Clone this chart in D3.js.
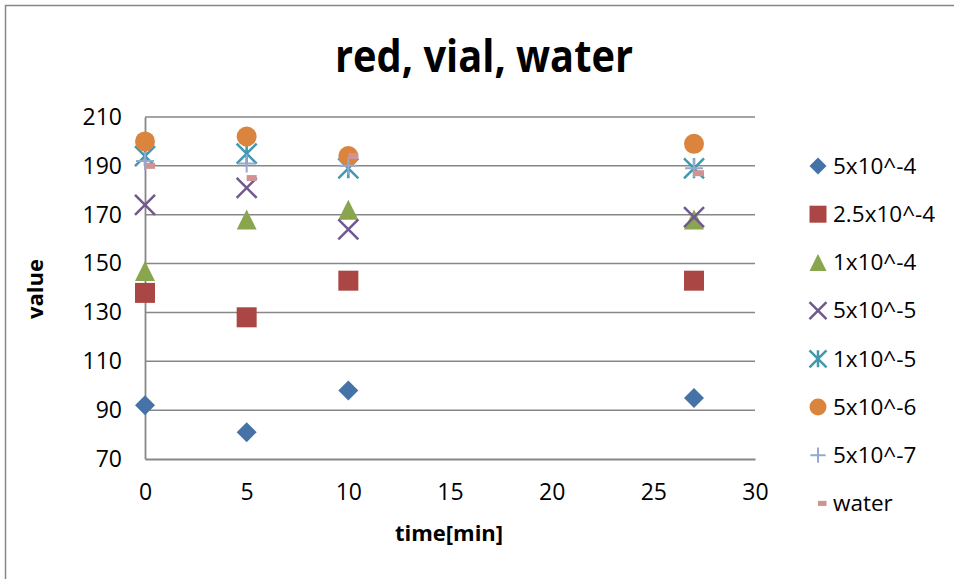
<!DOCTYPE html>
<html>
<head>
<meta charset="utf-8">
<script src="https://cdn.jsdelivr.net/npm/d3@7"></script>
<style>
  body { margin: 0; background: #fff; }
  svg { display: block; }
  text { font-family: "Open Sans", "Noto Sans", sans-serif; fill: #000; }
</style>
</head>
<body>
<svg id="chart" width="954" height="579"></svg>
<script>
// data
const times = [0, 5, 10, 27];
const seriesNames = ["5x10^-4", "2.5x10^-4", "1x10^-4", "5x10^-5", "1x10^-5", "5x10^-6", "5x10^-7", "water"];
const s5e4  = [92, 81, 98, 95];
const s25e4 = [138, 128, 143, 143];
const s1e4  = [147, 168, 172, 168];
const s5e5  = [174, 181, 164, 169];
const s1e5  = [194, 195, 189, 189];
const s5e6  = [200, 202, 194, 199];
const s5e7  = [192, 191, 190, 189];
const sWater = [190, 185, 194, 187];
const xTicks = [0, 5, 10, 15, 20, 25, 30];
const yTicks = [70, 90, 110, 130, 150, 170, 190, 210];

const seriesValues = [s5e4, s25e4, s1e4, s5e5, s1e5, s5e6, s5e7, sWater];
const colors = ["#4572A7", "#AA4643", "#89A54E", "#71588F", "#4198AF", "#DB843D", "#93A9CF", "#D19392"];
const shapes = ["diamond", "square", "triangle", "x", "star", "circle", "plus", "dash"];

const svg = d3.select('#chart');
const grey = '#878787';

// outer chart frame (only top and left edges visible)
svg.append('path')
    .attr('d', 'M5.5,579 V5.5 H954')
    .attr('fill', 'none')
    .attr('stroke', grey)
    .attr('stroke-width', 1.5);

const x = d3.scaleLinear().domain([0, 30]).range([145, 755]);
const y = d3.scaleLinear().domain([70, 210]).range([459, 117]);

// gridlines
svg.append('g').selectAll('line')
    .data(yTicks.slice(1))
    .join('line')
    .attr('x1', x(0)).attr('x2', x(30))
    .attr('y1', d => y(d)).attr('y2', d => y(d))
    .attr('stroke', grey)
    .attr('stroke-width', 1.5);

// axes
const xAxis = svg.append('g')
    .attr('transform', `translate(0,${y(70)})`)
    .call(d3.axisBottom(x).tickValues(xTicks).tickSize(0).tickPadding(25));
const yAxis = svg.append('g')
    .attr('transform', `translate(${x(0)},0)`)
    .call(d3.axisLeft(y).tickValues(yTicks).tickSize(0).tickPadding(23));
[xAxis, yAxis].forEach(a => {
    a.select('.domain').attr('stroke', grey).attr('stroke-width', 1.8);
    a.selectAll('text').style('font-size', '23px').style('font-family', '"Open Sans", sans-serif');
});

// marker drawing
function drawMarker(g, shape, color, k) {
    const r = 10 * k;
    if (shape === 'diamond') {
        g.append('path').attr('d', `M0,${-r}L${r},0L0,${r}L${-r},0Z`).attr('fill', color);
    } else if (shape === 'square') {
        g.append('rect').attr('x', -r).attr('y', -r).attr('width', 2 * r).attr('height', 2 * r).attr('fill', color);
    } else if (shape === 'triangle') {
        g.append('path').attr('d', `M0,${-r}L${r},${r}L${-r},${r}Z`).attr('fill', color);
    } else if (shape === 'circle') {
        g.append('circle').attr('r', r).attr('fill', color);
    } else if (shape === 'x') {
        g.append('path').attr('d', `M${-r},${-r}L${r},${r}M${r},${-r}L${-r},${r}`)
            .attr('stroke', color).attr('stroke-width', 2.5).attr('fill', 'none');
    } else if (shape === 'star') {
        g.append('path').attr('d', `M${-r},${-r}L${r},${r}M${r},${-r}L${-r},${r}M0,${-r}V${r}`)
            .attr('stroke', color).attr('stroke-width', 2.5).attr('fill', 'none');
    } else if (shape === 'plus') {
        const p = r * 0.9;
        g.append('path').attr('d', `M${-p},0H${p}M0,${-p}V${p}`)
            .attr('stroke', color).attr('stroke-width', 2).attr('fill', 'none');
    } else if (shape === 'dash') {
        g.append('rect').attr('x', 0).attr('y', -3 * k).attr('width', r).attr('height', 6 * k).attr('fill', color);
    }
}

// points
seriesValues.forEach((vals, i) => {
    svg.append('g').selectAll('g')
        .data(vals.map((v, j) => ({ t: times[j], v: v })))
        .join('g')
        .attr('transform', d => `translate(${x(d.t)},${y(d.v)})`)
        .each(function () { drawMarker(d3.select(this), shapes[i], colors[i], 1); });
});

// legend
const legend = svg.append('g').attr('transform', 'translate(818,166)');
seriesNames.forEach((name, i) => {
    const row = legend.append('g').attr('transform', `translate(0,${i * 48.2})`);
    drawMarker(row, shapes[i], colors[i], 0.85);
    row.append('text')
        .attr('x', 15)
        .attr('dy', '0.35em')
        .style('font-size', '22.5px')
        .text(name);
});

// titles
svg.append('text')
    .attr('x', 484).attr('y', 72)
    .attr('text-anchor', 'middle')
    .attr('textLength', 298)
    .attr('lengthAdjust', 'spacingAndGlyphs')
    .style('font-size', '45px')
    .style('font-weight', 'bold')
    .text('red, vial, water');

svg.append('text')
    .attr('x', 449).attr('y', 541)
    .attr('text-anchor', 'middle')
    .style('font-size', '22px')
    .style('font-weight', 'bold')
    .text('time[min]');

svg.append('text')
    .attr('transform', 'translate(43,289) rotate(-90)')
    .attr('text-anchor', 'middle')
    .style('font-size', '22px')
    .style('font-weight', 'bold')
    .text('value');
</script>
</body>
</html>
